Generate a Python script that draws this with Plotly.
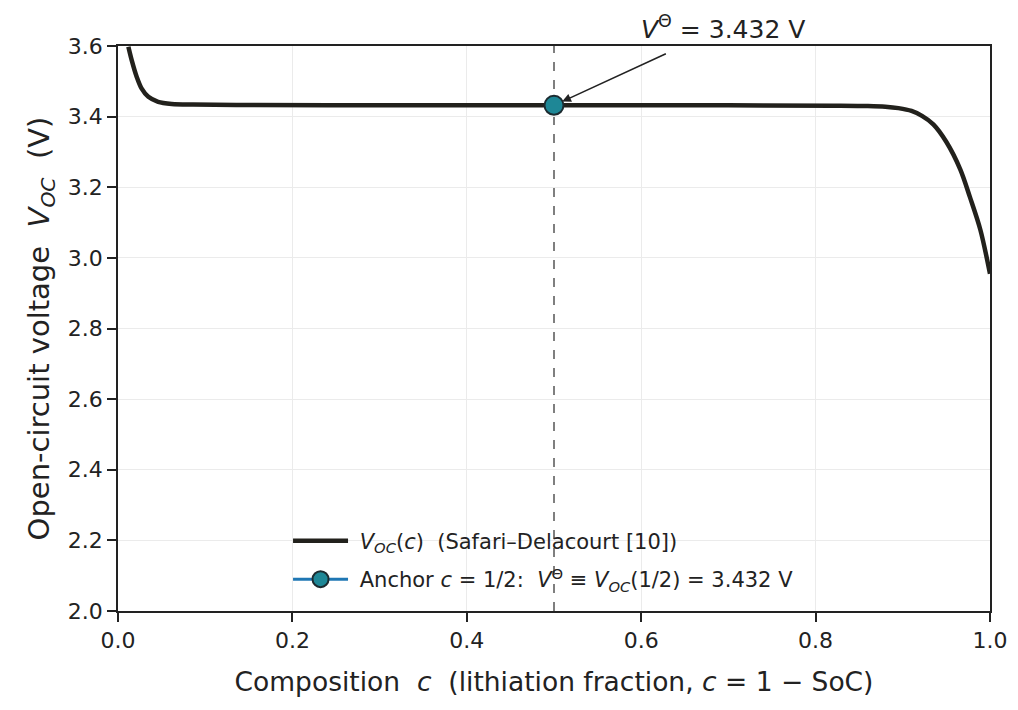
import plotly.graph_objects as go

# values
comp = [0.0119, 0.0157, 0.0214, 0.027, 0.0348, 0.046, 0.0616, 0.086,
        0.15, 0.3, 0.5, 0.7, 0.82, 0.86, 0.88, 0.895, 0.91, 0.922, 0.935, 0.950,
        0.966, 0.977, 0.989, 1.0]
voc = [3.598, 3.560, 3.513, 3.480, 3.456, 3.442, 3.436, 3.434,
       3.433, 3.432, 3.432, 3.432, 3.431, 3.430, 3.428, 3.424, 3.416, 3.402, 3.378, 3.328,
       3.250, 3.172, 3.079, 2.955]

anchor_c = [0.5]
anchor_v = [3.432]

x_ticks = [0.0, 0.2, 0.4, 0.6, 0.8, 1.0]
y_ticks = [2.0, 2.2, 2.4, 2.6, 2.8, 3.0, 3.2, 3.4, 3.6]

fnt = "DejaVu Sans"
ink = "#222222"

fig = go.Figure()

fig.add_trace(go.Scatter(
    x=comp, y=voc, mode="lines", line=dict(color="#22211c", width=4.5, shape="spline", smoothing=0.9),
    legendgroup="a",
    name="\u00a0<i>V</i><sub><i>OC</i></sub>(<i>c</i>)  (Safari–Delacourt [10])"
))

fig.add_trace(go.Scatter(
    x=anchor_c, y=anchor_v, mode="lines+markers",
    line=dict(color="#1f77b4", width=3),
    marker=dict(size=19, color="#1e8796", line=dict(color="#1c2b30", width=2)),
    legendgroup="b",
    name="\u00a0Anchor <i>c</i> = 1/2:  <i>V</i><sup>Θ</sup> ≡ <i>V</i><sub><i>OC</i></sub>(1/2) = 3.432 V"
))

# dashed vertical line at the anchor
fig.add_shape(type="line", x0=0.5, x1=0.5, y0=0, y1=1, xref="x", yref="paper",
              line=dict(color="#7f7f7f", width=2, dash="dash"), layer="below")

fig.add_annotation(
    x=0.5, y=3.432, ax=0.63, ay=3.58, xref="x", yref="y", axref="x", ayref="y",
    text="", showarrow=True, arrowhead=2, arrowsize=1.1, arrowwidth=1.6, arrowcolor=ink,
    standoff=9
)
fig.add_annotation(
    x=0.597, y=1.0, xref="paper", yref="paper", text="<i>V</i><sup>Θ</sup> = 3.432 V",
    showarrow=False, xanchor="left", yanchor="bottom", yshift=0,
    font=dict(family=fnt, size=25, color=ink)
)

fig.update_xaxes(
    range=[0, 1], tickvals=x_ticks, ticktext=[f"{t:.1f}" for t in x_ticks],
    showline=True, linecolor=ink, linewidth=1.5, mirror=True,
    ticks="outside", ticklen=9, tickwidth=1.5, tickcolor=ink,
    showgrid=True, gridcolor="#ebebeb", gridwidth=1, zeroline=False,
    tickfont=dict(family=fnt, size=22, color=ink), automargin=False,
    title=dict(text="Composition  <i>c</i>  (lithiation fraction, <i>c</i> = 1 − SoC)",
               font=dict(family=fnt, size=26.5, color=ink), standoff=20)
)
fig.update_yaxes(
    range=[2.0, 3.6], tickvals=y_ticks, ticktext=[f"{t:.1f}" for t in y_ticks],
    showline=True, linecolor=ink, linewidth=1.5, mirror=True,
    ticks="outside", ticklen=9, tickwidth=1.5, tickcolor=ink,
    showgrid=True, gridcolor="#ebebeb", gridwidth=1, zeroline=False,
    tickfont=dict(family=fnt, size=22, color=ink), automargin=False,
    title=dict(text="Open-circuit voltage  <i>V</i><sub><i>OC</i></sub>  (V)",
               font=dict(family=fnt, size=29, color=ink), standoff=10)
)

fig.update_layout(
    width=1018, height=710,
    margin=dict(l=110, r=36, t=38, b=107),
    plot_bgcolor="white", paper_bgcolor="white",
    showlegend=True,
    legend=dict(x=0.195, y=0.02, xanchor="left", yanchor="bottom",
                bgcolor="rgba(255,255,255,0)", borderwidth=0,
                font=dict(family=fnt, size=21, color=ink),
                tracegroupgap=8, itemwidth=55),
)

fig.write_html("out.html")
